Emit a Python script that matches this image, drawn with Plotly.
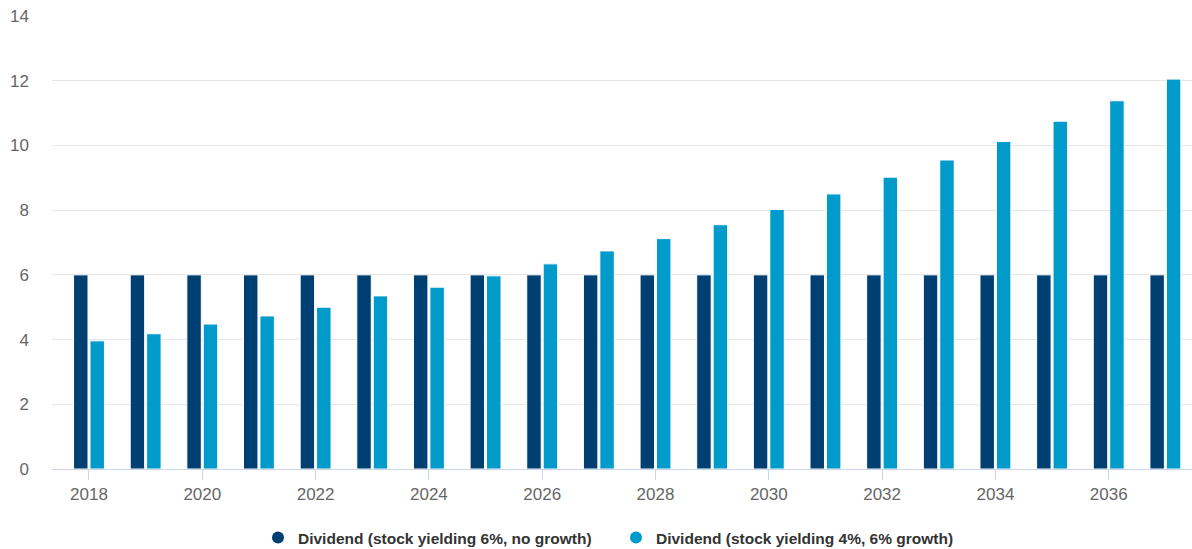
import plotly.graph_objects as go

years = list(range(2018, 2038))
no_growth = [6] * 20
growth = [3.96, 4.18, 4.48, 4.73, 5.0, 5.35, 5.62, 5.97, 6.34, 6.74,
          7.12, 7.55, 8.02, 8.5, 9.02, 9.55, 10.12, 10.75, 11.38, 12.05]
names = ["Dividend (stock yielding 6%, no growth)", "Dividend (stock yielding 4%, 6% growth)"]
colors = ["#003F72", "#009ACB"]

fig = go.Figure()
for vals, name, col in zip([no_growth, growth], names, colors):
    fig.add_trace(go.Bar(x=years, y=vals, name=name, marker_color=col, showlegend=False,
                         marker_line_color="white", marker_line_width=1))
for name, col in zip(names, colors):
    fig.add_trace(go.Scatter(x=[None], y=[None], mode="markers", name=name,
                             marker=dict(symbol="circle", size=15, color=col)))

fig.update_layout(
    width=1192, height=549,
    margin=dict(l=52, r=0, t=16, b=80, autoexpand=False),
    plot_bgcolor="white", paper_bgcolor="white",
    barmode="group", bargap=0.42, bargroupgap=0.12,
    font=dict(family="Liberation Sans, Arial, sans-serif", color="#666666", size=17),
    legend=dict(orientation="h", xref="container", yref="container",
                x=258 / 1192, xanchor="left", y=11 / 549, yanchor="middle",
                font=dict(size=15.5, color="#333333", family="Liberation Sans, Arial", weight="bold"),
                itemsizing="constant", traceorder="normal", entrywidth=313),
    showlegend=True,
)
fig.update_xaxes(range=[2017.347, 2037.47], tickmode="array", tickvals=list(range(2018, 2038, 2)),
                 showgrid=False, showline=True, linecolor="#ccd6eb", linewidth=1,
                 ticks="outside", ticklen=10, tickcolor="#ccd6eb", zeroline=False)
fig.update_yaxes(range=[0, 14], dtick=2, showgrid=True, gridcolor="#e6e6e6", gridwidth=1,
                 zeroline=False, ticks="", ticklabelstandoff=22, automargin=False)

fig.write_html("out.html")
